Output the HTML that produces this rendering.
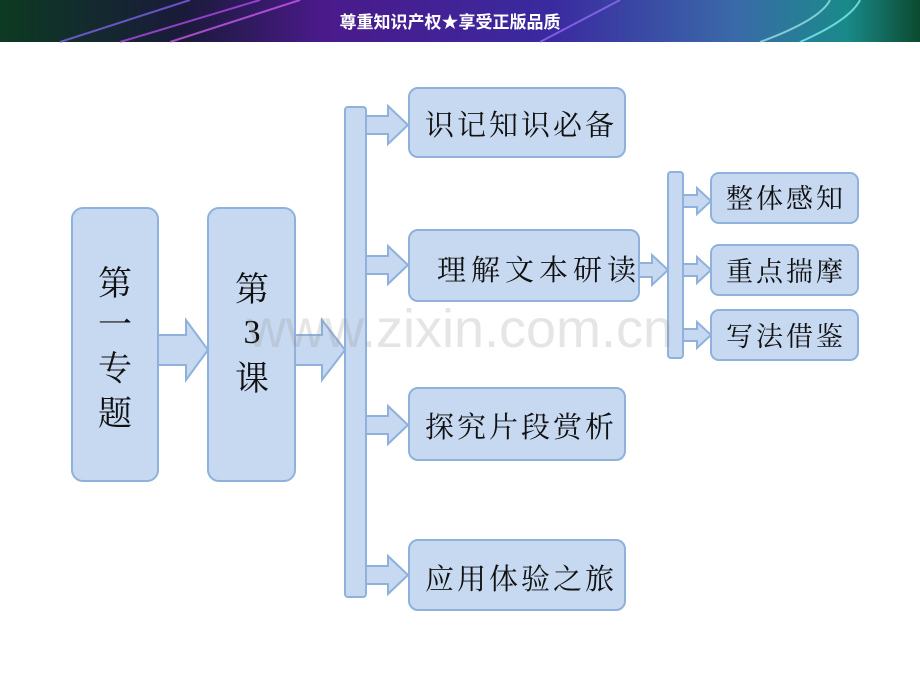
<!DOCTYPE html>
<html><head><meta charset="utf-8"><style>
html,body{margin:0;padding:0;width:920px;height:690px;overflow:hidden;background:#fff}
text{font-family:"Liberation Serif","Noto Serif CJK SC",serif;fill:#111}
</style></head><body>
<svg width="920" height="690" viewBox="0 0 920 690" xmlns="http://www.w3.org/2000/svg">
<defs>
<linearGradient id="bg" x1="0" x2="1" y1="0" y2="0">
<stop offset="0" stop-color="#0d3a22"/><stop offset="0.2" stop-color="#1a1a3a"/>
<stop offset="0.35" stop-color="#4a1a8a"/><stop offset="0.6" stop-color="#3a2aa0"/>
<stop offset="0.8" stop-color="#3a6aa8"/><stop offset="0.92" stop-color="#1a8a8a"/>
<stop offset="1" stop-color="#0b4a30"/></linearGradient>
</defs>
<rect x="0" y="0" width="920" height="42" fill="url(#bg)"/>
<g stroke-width="2" fill="none" opacity="0.7">
<path d="M60 42 L190 0" stroke="#8a6aff"/><path d="M120 42 L260 0" stroke="#c050ff"/>
<path d="M170 42 L300 0" stroke="#e060ff"/><path d="M540 42 L620 0" stroke="#a070ff"/>
<path d="M760 42 Q820 20 830 0" stroke="#aee"/><path d="M800 42 Q850 20 860 0" stroke="#8ff"/>
</g>
<text x="450" y="28" text-anchor="middle" style="font-family:'Liberation Sans','Noto Sans CJK SC',sans-serif;font-weight:bold;font-size:17px;fill:#fff">尊重知识产权★享受正版品质</text>

<g fill="#c6d9f1" stroke="#8fb1dc" stroke-width="2">
<rect x="72" y="208" width="86" height="273" rx="11"/>
<rect x="208" y="208" width="87" height="273" rx="11"/>
<polygon points="158,335 186,335 186,320 208,350 186,380 186,365 158,365"/>
<polygon points="295,335 322,335 322,320 345,350 322,380 322,365 295,365"/>
<rect x="345" y="107" width="21" height="490" rx="3"/>
<polygon points="366,116 388,116 388,106 408,125 388,144 388,134 366,134"/>
<polygon points="366,256 388,256 388,246 408,265 388,284 388,274 366,274"/>
<polygon points="366,416 388,416 388,406 408,425 388,444 388,434 366,434"/>
<polygon points="366,566 388,566 388,556 408,575 388,594 388,584 366,584"/>
<rect x="409" y="88" width="216" height="69" rx="9"/>
<rect x="409" y="230" width="230" height="71" rx="9"/>
<rect x="409" y="388" width="216" height="72" rx="9"/>
<rect x="409" y="540" width="216" height="70" rx="9"/>
<polygon points="639,263 652,263 652,255 668,270 652,285 652,277 639,277"/>
<rect x="668" y="172" width="15" height="186" rx="3"/>
<polygon points="683,195 697,195 697,188 711,201 697,214 697,207 683,207"/>
<polygon points="683,264 697,264 697,257 711,270 697,283 697,276 683,276"/>
<polygon points="683,329 697,329 697,322 711,335 697,348 697,341 683,341"/>
<rect x="711" y="173" width="147" height="50" rx="8"/>
<rect x="711" y="245" width="147" height="50" rx="8"/>
<rect x="711" y="310" width="147" height="50" rx="8"/>
</g>

<g font-size="34" text-anchor="middle">
<text x="115" y="295">第</text><text x="115" y="336">一</text>
<text x="115" y="380">专</text><text x="115" y="425">题</text>
<text x="252" y="301">第</text><text x="252" y="343">3</text>
<text x="252" y="390">课</text>
</g>
<g font-size="29" letter-spacing="3">
<text x="425" y="135">识记知识必备</text>
<text x="437" y="280" letter-spacing="5">理解文本研读</text>
<text x="425" y="437">探究片段赏析</text>
<text x="425" y="589">应用体验之旅</text>
</g>
<g font-size="27" letter-spacing="3">
<text x="726" y="208">整体感知</text>
<text x="726" y="281">重点揣摩</text>
<text x="726" y="346">写法借鉴</text>
</g>
<text x="460" y="347" text-anchor="middle" style="font-family:'Liberation Sans',sans-serif;font-size:54px;fill:#999;opacity:0.25">www.zixin.com.cn</text>
</svg>
</body></html>
